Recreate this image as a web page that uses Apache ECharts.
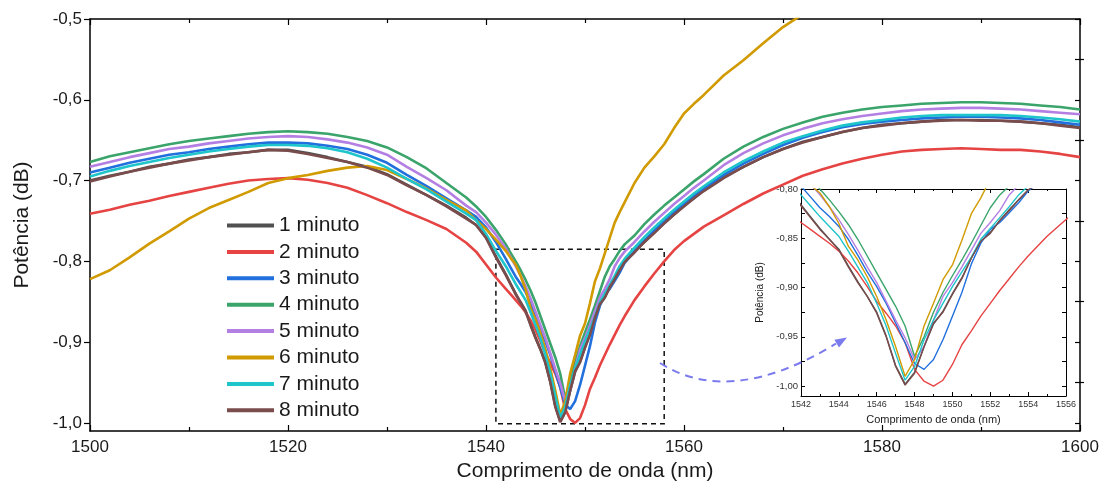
<!DOCTYPE html>
<html>
<head>
<meta charset="utf-8">
<title>Potência x comprimento de onda</title>
<script src="https://cdn.jsdelivr.net/npm/echarts@6/dist/echarts.min.js"></script>
<style>
  html, body { margin: 0; padding: 0; background: #fff; }
  #chart { width: 1107px; height: 491px; }
</style>
</head>
<body>
<div id="chart"></div>
<script>
// wavelength grid (nm), denser around the dip
const wavelength = [
  1500, 1502, 1504, 1506, 1508, 1510, 1512, 1514, 1516, 1518, 1520, 1522, 1524, 1526, 1528, 1530, 1532, 1534, 1536, 1538,
  1539, 1540, 1541,
  1542, 1542.5, 1543, 1543.5, 1544, 1544.5, 1545, 1545.5, 1546, 1546.5, 1547, 1547.5, 1548, 1548.5, 1549, 1549.5,
  1550, 1550.5, 1551, 1551.5, 1552, 1552.5, 1553, 1553.5, 1554,
  1555, 1556, 1557, 1558, 1559, 1560, 1561,
  1562, 1564, 1566, 1568, 1570, 1572, 1574, 1576, 1578, 1580, 1582, 1584, 1586, 1588, 1590, 1592, 1594, 1596, 1598, 1600
];

const min1 = [
  -0.700, -0.694, -0.689, -0.683, -0.679, -0.674, -0.671, -0.667, -0.665, -0.662, -0.662, -0.666, -0.671, -0.677, -0.683, -0.692, -0.705, -0.718, -0.731, -0.746,
  -0.755, -0.770, -0.794,
  -0.816, -0.828, -0.840, -0.851, -0.861, -0.878, -0.894, -0.909, -0.925, -0.949, -0.979, -0.998, -0.986, -0.960, -0.937, -0.924,
  -0.906, -0.890, -0.870, -0.853, -0.844, -0.832, -0.821, -0.811, -0.801,
  -0.788, -0.776, -0.764, -0.753, -0.742, -0.731, -0.722,
  -0.712, -0.696, -0.683, -0.671, -0.661, -0.652, -0.646, -0.640, -0.635, -0.631, -0.629, -0.627, -0.625, -0.625, -0.625, -0.626, -0.627, -0.629, -0.631, -0.634
];
const min2 = [
  -0.741, -0.736, -0.730, -0.725, -0.719, -0.714, -0.709, -0.704, -0.700, -0.698, -0.697, -0.699, -0.703, -0.709, -0.718, -0.728, -0.739, -0.749, -0.760, -0.777,
  -0.788, -0.804, -0.820,
  -0.834, -0.841, -0.848, -0.855, -0.863, -0.873, -0.885, -0.899, -0.914, -0.926, -0.939, -0.956, -0.983, -0.995, -1.000, -0.994,
  -0.978, -0.958, -0.944, -0.929, -0.916, -0.903, -0.891, -0.879, -0.868,
  -0.848, -0.831, -0.815, -0.800, -0.786, -0.775, -0.766,
  -0.757, -0.743, -0.729, -0.716, -0.705, -0.694, -0.686, -0.679, -0.673, -0.668, -0.664, -0.662, -0.661, -0.660, -0.661, -0.662, -0.662, -0.664, -0.667, -0.671
];
const min3 = [
  -0.690, -0.684, -0.678, -0.673, -0.668, -0.665, -0.661, -0.658, -0.655, -0.653, -0.653, -0.654, -0.657, -0.661, -0.668, -0.678, -0.693, -0.707, -0.722, -0.737,
  -0.745, -0.758, -0.776,
  -0.797, -0.808, -0.819, -0.828, -0.838, -0.851, -0.867, -0.884, -0.899, -0.916, -0.936, -0.956, -0.977, -0.983, -0.973, -0.953,
  -0.929, -0.905, -0.876, -0.855, -0.841, -0.834, -0.824, -0.814, -0.802,
  -0.787, -0.774, -0.762, -0.750, -0.739, -0.729, -0.719,
  -0.710, -0.693, -0.679, -0.667, -0.656, -0.647, -0.640, -0.634, -0.630, -0.627, -0.625, -0.623, -0.622, -0.621, -0.621, -0.622, -0.623, -0.625, -0.628, -0.631
];
const min4 = [
  -0.677, -0.670, -0.665, -0.660, -0.655, -0.651, -0.648, -0.645, -0.642, -0.640, -0.639, -0.640, -0.642, -0.646, -0.651, -0.659, -0.671, -0.685, -0.703, -0.721,
  -0.732, -0.745, -0.761,
  -0.779, -0.790, -0.800, -0.811, -0.823, -0.836, -0.851, -0.868, -0.885, -0.902, -0.919, -0.939, -0.970, -0.950, -0.925, -0.905,
  -0.888, -0.872, -0.855, -0.837, -0.819, -0.806, -0.797, -0.787, -0.779,
  -0.768, -0.754, -0.742, -0.731, -0.721, -0.711, -0.701,
  -0.692, -0.673, -0.658, -0.646, -0.636, -0.628, -0.621, -0.616, -0.612, -0.609, -0.607, -0.605, -0.604, -0.603, -0.603, -0.604, -0.605, -0.607, -0.609, -0.612
];
const min5 = [
  -0.683, -0.677, -0.671, -0.666, -0.661, -0.658, -0.654, -0.651, -0.648, -0.646, -0.645, -0.646, -0.649, -0.653, -0.659, -0.668, -0.683, -0.697, -0.712, -0.731,
  -0.739, -0.752, -0.767,
  -0.784, -0.795, -0.806, -0.818, -0.831, -0.846, -0.862, -0.879, -0.895, -0.914, -0.933, -0.951, -0.973, -0.960, -0.933, -0.909,
  -0.895, -0.879, -0.862, -0.845, -0.834, -0.822, -0.806, -0.796, -0.788,
  -0.776, -0.763, -0.751, -0.740, -0.729, -0.719, -0.709,
  -0.700, -0.681, -0.666, -0.654, -0.644, -0.636, -0.629, -0.624, -0.620, -0.617, -0.614, -0.612, -0.611, -0.610, -0.610, -0.611, -0.612, -0.614, -0.616, -0.618
];
const min6 = [
  -0.822, -0.811, -0.795, -0.778, -0.763, -0.747, -0.734, -0.724, -0.714, -0.703, -0.697, -0.693, -0.688, -0.684, -0.682, -0.687, -0.698, -0.710, -0.724, -0.737,
  -0.749, -0.760, -0.773,
  -0.787, -0.796, -0.804, -0.818, -0.835, -0.858, -0.872, -0.889, -0.909, -0.933, -0.960, -0.990, -0.973, -0.939, -0.916, -0.892,
  -0.877, -0.852, -0.825, -0.809, -0.790, -0.771, -0.752, -0.739, -0.727,
  -0.703, -0.684, -0.670, -0.655, -0.635, -0.617, -0.605,
  -0.594, -0.570, -0.551, -0.530, -0.510, -0.494, -0.482, null, null, null, null, null, null, null, null, null, null, null, null
];
const min7 = [
  -0.695, -0.688, -0.682, -0.677, -0.672, -0.668, -0.664, -0.661, -0.658, -0.656, -0.656, -0.657, -0.660, -0.665, -0.673, -0.684, -0.698, -0.711, -0.726, -0.741,
  -0.749, -0.766, -0.787,
  -0.806, -0.817, -0.828, -0.838, -0.848, -0.863, -0.879, -0.895, -0.916, -0.939, -0.967, -0.994, -0.980, -0.953, -0.933, -0.916,
  -0.899, -0.884, -0.869, -0.851, -0.840, -0.829, -0.818, -0.806, -0.797,
  -0.783, -0.770, -0.758, -0.747, -0.736, -0.726, -0.716,
  -0.707, -0.690, -0.676, -0.664, -0.653, -0.645, -0.638, -0.632, -0.628, -0.625, -0.622, -0.620, -0.619, -0.619, -0.619, -0.619, -0.620, -0.622, -0.624, -0.627
];
const min8 = [
  -0.701, -0.695, -0.689, -0.684, -0.679, -0.675, -0.671, -0.668, -0.665, -0.662, -0.663, -0.667, -0.672, -0.677, -0.684, -0.693, -0.706, -0.718, -0.732, -0.747,
  -0.755, -0.771, -0.795,
  -0.817, -0.829, -0.841, -0.851, -0.862, -0.879, -0.895, -0.909, -0.926, -0.950, -0.980, -0.999, -0.987, -0.960, -0.936, -0.925,
  -0.907, -0.891, -0.870, -0.853, -0.845, -0.832, -0.822, -0.811, -0.801,
  -0.789, -0.776, -0.765, -0.753, -0.742, -0.732, -0.722,
  -0.713, -0.697, -0.683, -0.671, -0.661, -0.653, -0.646, -0.640, -0.635, -0.632, -0.629, -0.627, -0.626, -0.625, -0.626, -0.626, -0.627, -0.629, -0.632, -0.635
];

const seriesNames = ["1 minuto", "2 minuto", "3 minuto", "4 minuto", "5 minuto", "6 minuto", "7 minuto", "8 minuto"];
const seriesValues = [min1, min2, min3, min4, min5, min6, min7, min8];
const seriesColors = ["#505050", "#e64343", "#2170dd", "#3aa46b", "#b47fe3", "#d09a00", "#1ec5cb", "#7a4c4c"];

const yTicksMain = [-1.0, -0.9, -0.8, -0.7, -0.6, -0.5];
const yMinorMain = [-0.95, -0.85, -0.75, -0.65, -0.55];
const yTicksInset = [-1.0, -0.95, -0.9, -0.85, -0.8];
const yMinorInset = [-0.975, -0.925, -0.875, -0.825];

const font = "'Liberation Sans', Arial, sans-serif";
const ink = "#1a1a1a";

let series = [];
seriesNames.forEach((name, i) => {
  const pts = wavelength.map((x, j) => [x, seriesValues[i][j]]);
  series.push({
    name: name,
    type: "line",
    xAxisIndex: 0,
    yAxisIndex: 0,
    data: pts,
    showSymbol: false,
    clip: true,
    lineStyle: { width: 2.6, color: seriesColors[i] },
    itemStyle: { color: seriesColors[i] },
    z: 3
  });
});
seriesNames.forEach((name, i) => {
  const pts = wavelength.map((x, j) => [x, seriesValues[i][j]]);
  series.push({
    name: name,
    type: "line",
    xAxisIndex: 2,
    yAxisIndex: 3,
    data: pts,
    showSymbol: false,
    clip: true,
    lineStyle: { width: 1.4, color: seriesColors[i] },
    itemStyle: { color: seriesColors[i] },
    z: 5
  });
});

// dashed box marking the zoomed region
series[0].markArea = {
  silent: true,
  label: { show: false },
  itemStyle: { color: "rgba(0,0,0,0)", borderColor: "#111", borderWidth: 1.5, borderType: [5, 4] },
  data: [[{ xAxis: 1541, yAxis: -0.785 }, { xAxis: 1558, yAxis: -1.001 }]]
};

const mainLine = { show: true, onZero: false, lineStyle: { color: "#000", width: 1.5 } };
const insetLine = { show: true, onZero: false, lineStyle: { color: "#000", width: 1 } };
const plain = v => String(v);

let option = {
  animation: false,
  backgroundColor: "#fff",
  textStyle: { fontFamily: font, color: ink },
  legend: {
    orient: "vertical",
    left: 222,
    top: 210,
    itemWidth: 47,
    itemHeight: 4,
    itemGap: 5.4,
    icon: "rect",
    data: seriesNames,
    textStyle: { fontSize: 21, lineHeight: 21, color: ink, fontFamily: font }
  },
  grid: [
    { left: 90, top: 19, width: 990, height: 412 },
    { left: 801, top: 189, width: 265, height: 207 }
  ],
  xAxis: [
    {
      type: "value", gridIndex: 0, min: 1500, max: 1600, interval: 20,
      name: "Comprimento de onda (nm)", nameLocation: "middle", nameGap: 27,
      nameTextStyle: { fontSize: 21, color: ink },
      axisLine: mainLine,
      axisTick: { inside: true, length: 6, lineStyle: { color: "#000", width: 1.2 } },
      minorTick: { show: true, splitNumber: 2, length: 4, lineStyle: { color: "#000", width: 1.2 } },
      axisLabel: { fontSize: 17, color: ink, margin: 8, formatter: plain },
      splitLine: { show: false }
    },
    {
      type: "value", gridIndex: 0, position: "top", min: 1500, max: 1600, interval: 20,
      axisLine: mainLine,
      axisTick: { inside: true, length: 6, lineStyle: { color: "#000", width: 1.2 } },
      minorTick: { show: true, splitNumber: 2, length: 4, lineStyle: { color: "#000", width: 1.2 } },
      axisLabel: { show: false },
      splitLine: { show: false }
    },
    {
      type: "value", gridIndex: 1, min: 1542, max: 1556, interval: 2,
      name: "Comprimento de onda (nm)", nameLocation: "middle", nameGap: 18,
      nameTextStyle: { fontSize: 11, color: ink },
      axisLine: insetLine,
      axisTick: { inside: true, length: 4, lineStyle: { color: "#000" } },
      minorTick: { show: true, splitNumber: 2, length: 2, lineStyle: { color: "#000" } },
      axisLabel: { fontSize: 9, color: "#333", margin: 4, formatter: plain },
      splitLine: { show: false }
    },
    {
      type: "value", gridIndex: 1, position: "top", min: 1542, max: 1556, interval: 2,
      axisLine: insetLine,
      axisTick: { inside: true, length: 4, lineStyle: { color: "#000" } },
      minorTick: { show: true, splitNumber: 2, length: 2, lineStyle: { color: "#000" } },
      axisLabel: { show: false },
      splitLine: { show: false }
    }
  ],
  yAxis: [
    {
      type: "value", gridIndex: 0, min: -1.01, max: -0.5,
      name: "Potência (dB)", nameLocation: "middle", nameGap: 57, nameRotate: 90,
      nameTextStyle: { fontSize: 21, color: ink },
      axisLine: mainLine,
      axisTick: { customValues: yTicksMain, length: 6, lineStyle: { color: "#000", width: 1.2 } },
      axisLabel: {
        customValues: yTicksMain, fontSize: 17, color: ink, margin: 8,
        formatter: v => v.toFixed(1).replace(".", ",")
      },
      splitLine: { show: false }
    },
    {
      type: "value", gridIndex: 0, min: -1.01, max: -0.5,
      axisLine: { show: false },
      axisTick: { customValues: yMinorMain, length: 4, lineStyle: { color: "#000", width: 1.2 } },
      axisLabel: { show: false, customValues: yMinorMain },
      splitLine: { show: false }
    },
    {
      type: "value", gridIndex: 0, position: "right", min: -1.01, max: -0.5,
      axisLine: mainLine,
      axisTick: { inside: true, customValues: yTicksMain.concat(yMinorMain), length: 5, lineStyle: { color: "#000", width: 1.2 } },
      axisLabel: { show: false, customValues: yTicksMain },
      splitLine: { show: false }
    },
    {
      type: "value", gridIndex: 1, min: -1.01, max: -0.8,
      name: "Potência (dB)", nameLocation: "middle", nameGap: 36, nameRotate: 90,
      nameTextStyle: { fontSize: 10, color: ink },
      axisLine: insetLine,
      axisTick: { inside: true, customValues: yTicksInset.concat(yMinorInset), length: 4, lineStyle: { color: "#000" } },
      axisLabel: {
        customValues: yTicksInset, fontSize: 9.5, color: "#333", margin: 3,
        formatter: v => v.toFixed(2).replace(".", ",")
      },
      splitLine: { show: false }
    },
    {
      type: "value", gridIndex: 1, position: "right", min: -1.01, max: -0.8,
      axisLine: insetLine,
      axisTick: { inside: true, customValues: yTicksInset.concat(yMinorInset), length: 4, lineStyle: { color: "#000" } },
      axisLabel: { show: false, customValues: yTicksInset },
      splitLine: { show: false }
    }
  ],
  graphic: [
    {
      type: "bezierCurve",
      shape: { x1: 660, y1: 363, cpx1: 730, cpy1: 408, x2: 836, y2: 343.7 },
      style: { stroke: "#7b7bef", lineWidth: 2, lineDash: [8, 6], fill: null },
      z: 20
    },
    {
      type: "polygon",
      shape: { points: [[847, 337.5], [834.4, 339.8], [839, 347.6]] },
      style: { fill: "#7b7bef" },
      z: 20
    }
  ],
  series: series
};

const chart = echarts.init(document.getElementById("chart"));
chart.setOption(option);
</script>
</body>
</html>
